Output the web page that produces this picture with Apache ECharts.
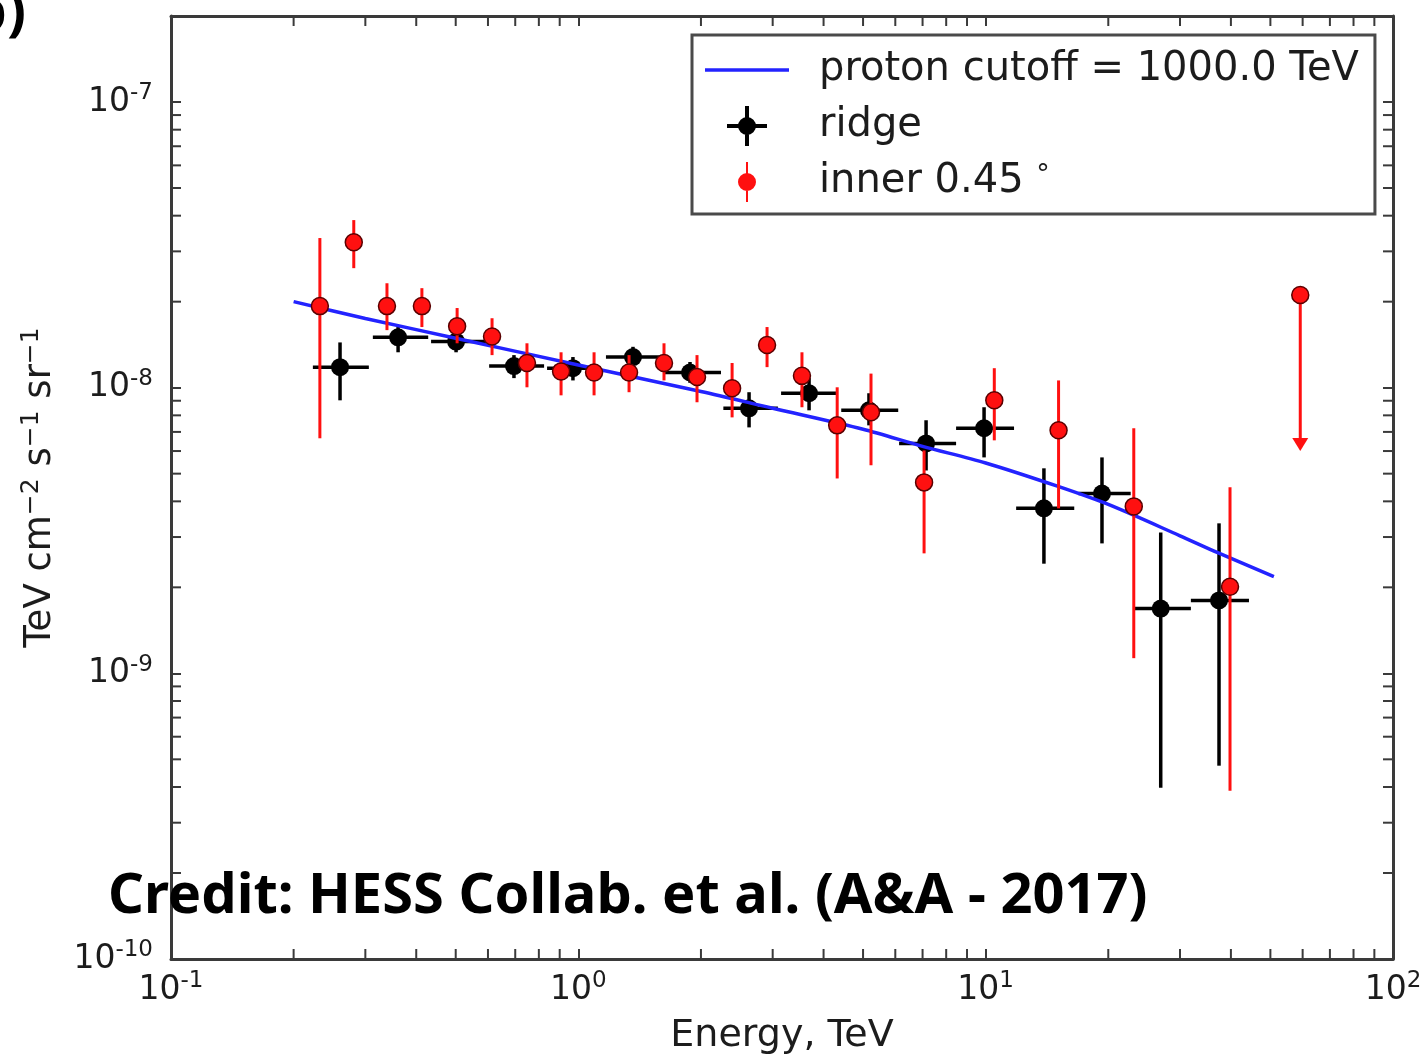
<!DOCTYPE html>
<html>
<head>
<meta charset="utf-8">
<title>Gamma-ray spectrum</title>
<script src="https://cdn.jsdelivr.net/npm/echarts@6/dist/echarts.min.js"></script>
<style>
  html, body { margin: 0; padding: 0; background: #fff; }
  #chart { width: 1422px; height: 1056px; }
</style>
</head>
<body>
<div id="chart"></div>
<script>
// ---- ridge spectrum (energy bins with flux and errors) ----
const ridgeE   = [0.260, 0.361, 0.501, 0.695, 0.970, 1.362, 1.88, 2.625, 3.685, 5.17, 7.14, 9.91, 13.9, 19.3, 26.9, 37.4];
const ridgeElo = [0.223, 0.313, 0.435, 0.604, 0.838, 1.169, 1.623, 2.27, 3.146, 4.42, 6.13, 8.46, 11.88, 16.9, 23.1, 31.9];
const ridgeEhi = [0.306, 0.428, 0.593, 0.824, 1.137, 1.596, 2.24, 3.09, 4.34, 6.10, 8.46, 11.74, 16.5, 22.7, 31.9, 44.3];
const ridgeF   = [1.18e-8, 1.50e-8, 1.45e-8, 1.19e-8, 1.17e-8, 1.28e-8, 1.13e-8, 8.47e-9, 9.56e-9, 8.33e-9, 6.38e-9, 7.21e-9, 3.78e-9, 4.26e-9, 1.685e-9, 1.80e-9];
const ridgeFlo = [9.03e-9, 1.33e-8, 1.33e-8, 1.08e-8, 1.06e-8, 1.17e-8, 1.04e-8, 7.26e-9, 8.33e-9, 7.38e-9, 5.13e-9, 5.70e-9, 2.42e-9, 2.85e-9, 3.98e-10, 4.75e-10];
const ridgeFhi = [1.44e-8, 1.63e-8, 1.58e-8, 1.30e-8, 1.28e-8, 1.39e-8, 1.23e-8, 9.64e-9, 1.08e-8, 9.56e-9, 7.69e-9, 8.54e-9, 5.22e-9, 5.70e-9, 3.11e-9, 3.35e-9];

// ---- inner 0.45 deg spectrum ----
const innerE   = [0.232, 0.281, 0.339, 0.413, 0.504, 0.614, 0.748, 0.907, 1.093, 1.332, 1.623, 1.956, 2.385, 2.906, 3.54, 4.32, 5.23, 7.06, 10.5, 15.1, 23.1, 39.8];
const innerF   = [1.93e-8, 3.23e-8, 1.93e-8, 1.93e-8, 1.64e-8, 1.51e-8, 1.22e-8, 1.14e-8, 1.13e-8, 1.13e-8, 1.22e-8, 1.09e-8, 9.95e-9, 1.41e-8, 1.10e-8, 7.38e-9, 8.20e-9, 4.66e-9, 9.03e-9, 7.09e-9, 3.84e-9, 2.01e-9];
const innerFlo = [6.65e-9, 2.62e-8, 1.59e-8, 1.63e-8, 1.43e-8, 1.30e-8, 1.003e-8, 9.40e-9, 9.40e-9, 9.64e-9, 1.06e-8, 8.89e-9, 7.87e-9, 1.18e-8, 8.54e-9, 4.81e-9, 5.35e-9, 2.63e-9, 6.54e-9, 3.78e-9, 1.13e-9, 3.88e-10];
const innerFhi = [3.34e-8, 3.86e-8, 2.32e-8, 2.23e-8, 1.90e-8, 1.75e-8, 1.43e-8, 1.33e-8, 1.33e-8, 1.30e-8, 1.43e-8, 1.30e-8, 1.22e-8, 1.63e-8, 1.33e-8, 1.003e-8, 1.12e-8, 6.03e-9, 1.17e-8, 1.06e-8, 7.21e-9, 4.48e-9];

// upper limit of the inner region (value and arrow end)
const ulE = [59.2];
const ulF = [2.11e-8];
const ulTo = [6.0e-9];

// ---- model curve: proton cutoff 1000 TeV ----
const modelE = [0.2, 0.3, 0.5, 1, 2, 3, 5, 7, 10, 15, 20, 30, 37, 51];
const modelF = [2.0e-8, 1.747e-8, 1.49e-8, 1.2e-8, 9.7e-9, 8.47e-9, 7.15e-9, 6.23e-9, 5.45e-9, 4.52e-9, 3.9e-9, 3.03e-9, 2.65e-9, 2.18e-9];

// ---- minor tick positions ----
const minorXTicks = [0.2, 0.3, 0.4, 0.5, 0.6, 0.7, 0.8, 0.9, 2, 3, 4, 5, 6, 7, 8, 9, 20, 30, 40, 50, 60, 70, 80, 90];
const minorYTicks = [2e-10, 3e-10, 4e-10, 5e-10, 6e-10, 7e-10, 8e-10, 9e-10,
                     2e-9, 3e-9, 4e-9, 5e-9, 6e-9, 7e-9, 8e-9, 9e-9,
                     2e-8, 3e-8, 4e-8, 5e-8, 6e-8, 7e-8, 8e-8, 9e-8];

const NAME_MODEL = 'proton cutoff = 1000.0 TeV';
const NAME_RIDGE = 'ridge';
const NAME_INNER = 'inner 0.45°';

const FONT = 'DejaVu Sans';
const TXT = '#1c1c1c';
const FRAME = '#3a3a3a';
const BLUE = '#2323ff';
const RED = '#ff1010';

const chart = echarts.init(document.getElementById('chart'), null, { renderer: 'canvas' });

function powLabel(v) {
  const e = Math.round(Math.log10(v));
  if (Math.abs(v / Math.pow(10, e) - 1) > 1e-6) return '';
  return '{b|10}{s|' + e + '}';
}

const tickRich = {
  b: { fontFamily: FONT, fontSize: 33, color: TXT, lineHeight: 40 },
  s: { fontFamily: FONT, fontSize: 23, color: TXT, lineHeight: 16, verticalAlign: 'top' }
};

function baseAxis(extra) {
  return Object.assign({
    type: 'log',
    logBase: 10,
    axisLine: { show: true, lineStyle: { color: FRAME, width: 3 } },
    axisTick: { show: true, inside: true, length: 10, lineStyle: { color: FRAME, width: 2 } },
    splitLine: { show: false },
    minorTick: { show: false },
    minorSplitLine: { show: false }
  }, extra);
}

const ridgeData = ridgeE.map((e, i) => [e, ridgeF[i], ridgeElo[i], ridgeEhi[i], ridgeFlo[i], ridgeFhi[i]]);
const innerData = innerE.map((e, i) => [e, innerF[i], innerFlo[i], innerFhi[i]]);
const ulData = ulE.map((e, i) => [e, ulF[i], ulTo[i]]);
const modelData = modelE.map((e, i) => [e, modelF[i]]);

function renderRidge(params, api) {
  const c = api.coord([api.value(0), api.value(1)]);
  const l = api.coord([api.value(2), api.value(1)]);
  const r = api.coord([api.value(3), api.value(1)]);
  const b = api.coord([api.value(0), api.value(4)]);
  const t = api.coord([api.value(0), api.value(5)]);
  const st = { stroke: '#000', lineWidth: 3.5 };
  return {
    type: 'group',
    children: [
      { type: 'line', shape: { x1: l[0], y1: c[1], x2: r[0], y2: c[1] }, style: st },
      { type: 'line', shape: { x1: c[0], y1: t[1], x2: c[0], y2: b[1] }, style: st },
      { type: 'circle', shape: { cx: c[0], cy: c[1], r: 9 }, style: { fill: '#000' } }
    ]
  };
}

function renderInner(params, api) {
  const c = api.coord([api.value(0), api.value(1)]);
  const b = api.coord([api.value(0), api.value(2)]);
  const t = api.coord([api.value(0), api.value(3)]);
  return {
    type: 'group',
    children: [
      { type: 'line', shape: { x1: c[0], y1: t[1], x2: c[0], y2: b[1] }, style: { stroke: RED, lineWidth: 3 } },
      { type: 'circle', shape: { cx: c[0], cy: c[1], r: 8.5 }, style: { fill: RED, stroke: '#5a0000', lineWidth: 1.5 } }
    ]
  };
}

function renderUpperLimit(params, api) {
  const c = api.coord([api.value(0), api.value(1)]);
  const tip = api.coord([api.value(0), api.value(2)]);
  const head = 13, half = 8;
  return {
    type: 'group',
    children: [
      { type: 'line', shape: { x1: c[0], y1: c[1], x2: c[0], y2: tip[1] - head + 1 }, style: { stroke: RED, lineWidth: 3 } },
      { type: 'polygon', shape: { points: [[c[0] - half, tip[1] - head], [c[0] + half, tip[1] - head], [c[0], tip[1]]] }, style: { fill: RED } },
      { type: 'circle', shape: { cx: c[0], cy: c[1], r: 8.5 }, style: { fill: RED, stroke: '#5a0000', lineWidth: 1.5 } }
    ]
  };
}

// minor ticks on all four sides of the frame
function renderMinorX(params, api) {
  const cs = params.coordSys;
  const x = api.coord([api.value(0), 1e-9])[0];
  const st = { stroke: FRAME, lineWidth: 2 };
  return {
    type: 'group',
    children: [
      { type: 'line', shape: { x1: x, y1: cs.y + cs.height, x2: x, y2: cs.y + cs.height - 10 }, style: st },
      { type: 'line', shape: { x1: x, y1: cs.y, x2: x, y2: cs.y + 10 }, style: st }
    ]
  };
}
function renderMinorY(params, api) {
  const cs = params.coordSys;
  const y = api.coord([1, api.value(1)])[1];
  const st = { stroke: FRAME, lineWidth: 2 };
  return {
    type: 'group',
    children: [
      { type: 'line', shape: { x1: cs.x, y1: y, x2: cs.x + 10, y2: y }, style: st },
      { type: 'line', shape: { x1: cs.x + cs.width, y1: y, x2: cs.x + cs.width - 10, y2: y }, style: st }
    ]
  };
}

const option = {
  backgroundColor: '#fff',
  animation: false,
  grid: { left: 171, right: 29, top: 16, bottom: 97, containLabel: false, outerBoundsMode: 'none' },
  xAxis: [
    baseAxis({
      position: 'bottom', min: 0.1, max: 100,
      name: 'Energy, TeV', nameLocation: 'middle', nameGap: 55,
      nameTextStyle: { fontFamily: FONT, fontSize: 38, color: TXT, lineHeight: 44 },
      axisLabel: { show: true, margin: 11, formatter: powLabel, rich: tickRich }
    }),
    baseAxis({ position: 'top', min: 0.1, max: 100, axisLabel: { show: false } })
  ],
  yAxis: [
    baseAxis({
      position: 'left', min: 1e-10, max: 2e-7,
      name: 'TeV cm{s|−2} s{s|−1} sr{s|−1}', nameLocation: 'middle', nameGap: 105,
      nameTextStyle: {
        fontFamily: FONT, fontSize: 37, color: TXT, lineHeight: 44,
        rich: { s: { fontFamily: FONT, fontSize: 25, color: TXT, lineHeight: 20, verticalAlign: 'top' } }
      },
      axisLabel: { show: true, margin: 18, formatter: powLabel, rich: tickRich }
    }),
    baseAxis({ position: 'right', min: 1e-10, max: 2e-7, axisLabel: { show: false } })
  ],
  legend: {
    show: true,
    orient: 'vertical',
    left: 692,
    top: 35,
    padding: [15, 16, 12, 13],
    itemWidth: 84,
    itemHeight: 40,
    itemGap: 16,
    selectedMode: false,
    backgroundColor: '#fff',
    borderColor: '#4a4a4a',
    borderWidth: 3,
    borderRadius: 0,
    textStyle: {
      fontFamily: FONT, fontSize: 40, color: TXT, lineHeight: 40, padding: [0, 0, 0, 25],
      rich: { d: { fontFamily: FONT, fontSize: 27, color: TXT, lineHeight: 14, verticalAlign: 'top' } }
    },
    formatter: function (name) {
      return name === NAME_INNER ? 'inner 0.45 {d|°}' : name;
    },
    data: [
      { name: NAME_MODEL, icon: 'path://M0,0H84V3.5H0Z', itemStyle: { color: BLUE } },
      { name: NAME_RIDGE, icon: 'path://M0,18H40V22H0Z M18,0H22V40H18Z M11,20A9,9 0 1,1 29,20A9,9 0 1,1 11,20Z', itemStyle: { color: '#000' } },
      { name: NAME_INNER, icon: 'path://M8,0H10V40H8Z M0,20A9,9 0 1,1 18,20A9,9 0 1,1 0,20Z', itemStyle: { color: RED } }
    ]
  },
  series: [
    {
      type: 'custom', name: 'minor-x', silent: true, z: 1,
      renderItem: renderMinorX,
      data: minorXTicks.map(v => [v, 1e-9]),
      encode: { x: 0, y: 1 }
    },
    {
      type: 'custom', name: 'minor-y', silent: true, z: 1,
      renderItem: renderMinorY,
      data: minorYTicks.map(v => [1, v]),
      encode: { x: 0, y: 1 }
    },
    {
      type: 'custom', name: NAME_RIDGE, z: 2,
      itemStyle: { color: '#000' },
      renderItem: renderRidge,
      data: ridgeData,
      encode: { x: [0, 2, 3], y: [1, 4, 5] }
    },
    {
      type: 'line', name: NAME_MODEL, z: 3,
      data: modelData,
      smooth: 0.3,
      showSymbol: false,
      symbol: 'none',
      itemStyle: { color: BLUE },
      lineStyle: { color: BLUE, width: 3.5 }
    },
    {
      type: 'custom', name: NAME_INNER, z: 4,
      itemStyle: { color: RED },
      renderItem: renderInner,
      data: innerData,
      encode: { x: 0, y: [1, 2, 3] }
    },
    {
      type: 'custom', name: NAME_INNER, z: 4,
      itemStyle: { color: RED },
      renderItem: renderUpperLimit,
      data: ulData,
      encode: { x: 0, y: [1, 2] }
    }
  ],
  graphic: [
    {
      type: 'text', z: 100, left: 108, top: 869,
      style: {
        text: 'Credit: HESS Collab. et al. (A&A - 2017)',
        fontFamily: "'Comic Sans MS', 'Noto Sans', sans-serif",
        fontWeight: 'bold', fontSize: 56, fill: '#000'
      }
    },
    {
      type: 'text', z: 100, x: 26, y: -14,
      style: {
        text: 'b)', align: 'right', verticalAlign: 'top',
        fontFamily: "'Comic Sans MS', 'Noto Sans', sans-serif",
        fontWeight: 'bold', fontSize: 56, fill: '#000'
      }
    }
  ]
};

chart.setOption(option);
</script>
</body>
</html>
